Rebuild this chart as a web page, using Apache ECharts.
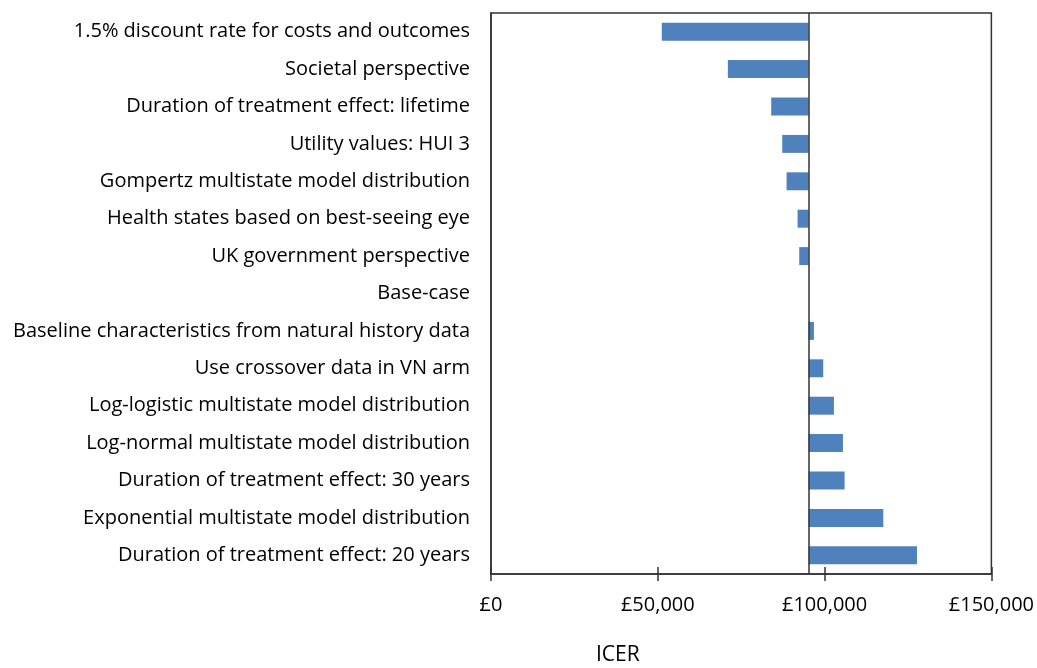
<!DOCTYPE html>
<html>
<head>
<meta charset="utf-8">
<script src="https://cdn.jsdelivr.net/npm/echarts@6/dist/echarts.min.js"></script>
<style>
  html, body { margin: 0; padding: 0; background: #fff; }
  #chart { width: 1037px; height: 668px; }
</style>
</head>
<body>
<div id="chart"></div>
<script>
// scenarios, top to bottom
const scenarios = [
    '1.5% discount rate for costs and outcomes',
    'Societal perspective',
    'Duration of treatment effect: lifetime',
    'Utility values: HUI 3',
    'Gompertz multistate model distribution',
    'Health states based on best-seeing eye',
    'UK government perspective',
    'Base-case',
    'Baseline characteristics from natural history data',
    'Use crossover data in VN arm',
    'Log-logistic multistate model distribution',
    'Log-normal multistate model distribution',
    'Duration of treatment effect: 30 years',
    'Exponential multistate model distribution',
    'Duration of treatment effect: 20 years'
];
// ICER (GBP) for each scenario
const icer = [51200, 71000, 84000, 87300, 88600, 91900, 92400, 95200,
              96800, 99600, 102800, 105500, 106000, 117600, 127700];
const baseCase = 95200;
const xTicks = [0, 50000, 100000, 150000];

// tornado: invisible offset + visible difference
const offset = icer.map(v => Math.min(v, baseCase));
const diff = icer.map(v => Math.abs(v - baseCase));

const fontFamily = '"Open Sans", "Noto Sans", sans-serif';
const lineColor = '#333';

function fmt(v) {
    return '£' + v.toLocaleString('en-GB');
}

let myChart = echarts.init(document.getElementById('chart'));
myChart.setOption({
    animation: false,
    grid: {
        left: 491,
        right: 44,
        top: 13,
        bottom: 94,
        show: true,
        borderColor: lineColor,
        borderWidth: 1.5,
        backgroundColor: '#fff'
    },
    xAxis: [{
        type: 'value',
        min: xTicks[0],
        max: xTicks[xTicks.length - 1],
        interval: 50000,
        axisLine: { show: true, lineStyle: { color: lineColor, width: 1.5 } },
        axisTick: { show: true, length: 7, lineStyle: { color: lineColor, width: 1.5 } },
        splitLine: { show: false },
        axisLabel: {
            color: '#000',
            fontSize: 20,
            fontFamily: fontFamily,
            margin: 21,
            formatter: fmt
        }
    }, {
        // inner half of the crossing ticks
        type: 'value',
        position: 'bottom',
        min: xTicks[0],
        max: xTicks[xTicks.length - 1],
        interval: 50000,
        axisLine: { show: false },
        axisTick: { show: true, inside: true, length: 7, lineStyle: { color: lineColor, width: 1.5 } },
        axisLabel: { show: false },
        splitLine: { show: false }
    }],
    yAxis: {
        type: 'category',
        inverse: true,
        data: scenarios,
        axisLine: { show: true, lineStyle: { color: lineColor, width: 1.5 } },
        axisTick: { show: false },
        axisLabel: {
            color: '#000',
            fontSize: 20,
            fontFamily: fontFamily,
            margin: 21
        }
    },
    graphic: [{
        type: 'text',
        left: 596,
        top: 645,
        style: {
            text: 'ICER',
            fill: '#000',
            fontSize: 21,
            fontFamily: fontFamily
        }
    }],
    series: [{
        name: 'offset',
        type: 'bar',
        stack: 'icer',
        data: offset,
        barWidth: '48%',
        itemStyle: { color: 'transparent' },
        silent: true
    }, {
        name: 'ICER',
        type: 'bar',
        stack: 'icer',
        data: diff,
        barWidth: '48%',
        itemStyle: { color: '#4F81BD' },
        markLine: {
            silent: true,
            symbol: 'none',
            label: { show: false },
            lineStyle: { color: lineColor, width: 1.5, type: 'solid' },
            data: [{ xAxis: baseCase }]
        }
    }]
});
</script>
</body>
</html>
